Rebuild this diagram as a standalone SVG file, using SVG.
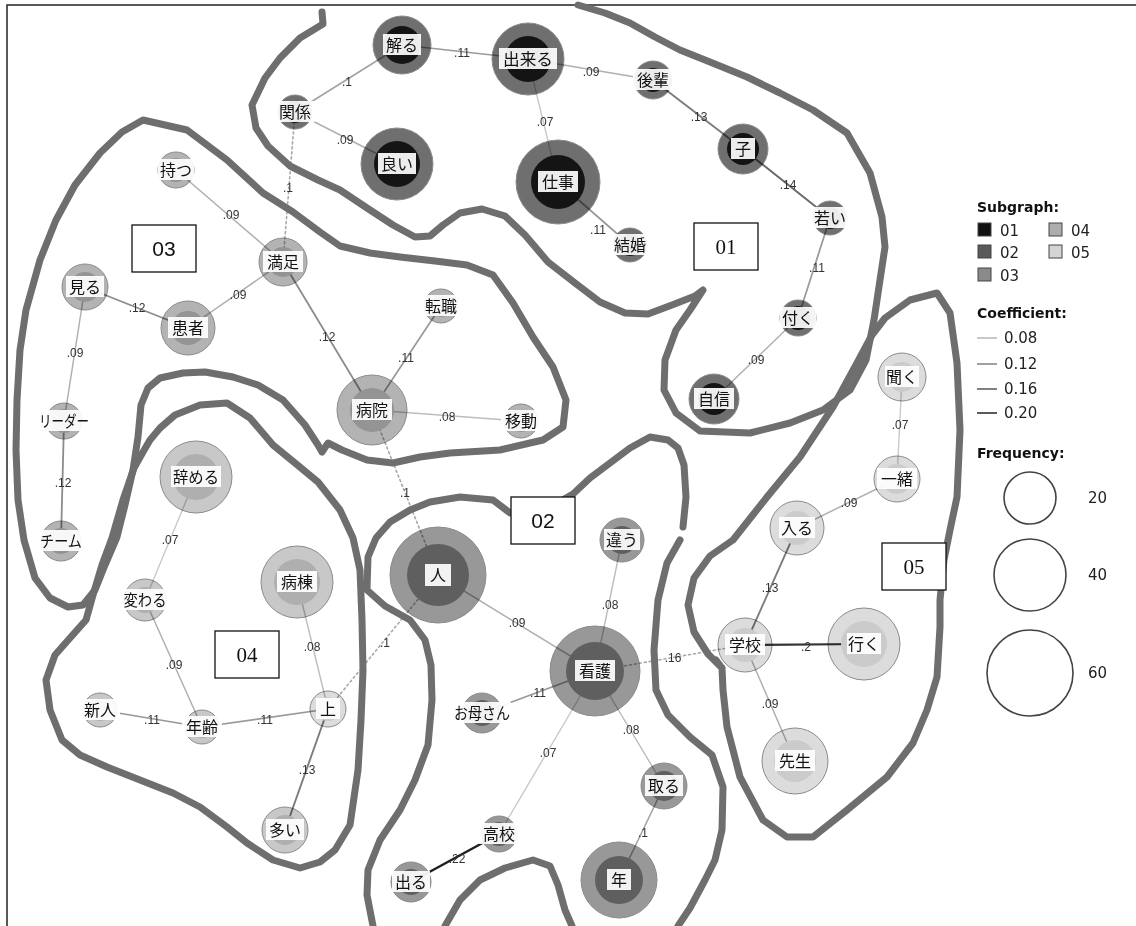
<svg xmlns="http://www.w3.org/2000/svg" width="1136" height="926" viewBox="0 0 1136 926">
<style>
.frame{fill:none;stroke:#222;stroke-width:1.5}
.e{fill:none;stroke-linecap:round}
.e07{stroke:#c6c6c6;stroke-width:1.3}
.e08{stroke:#bdbdbd;stroke-width:1.4}
.e09{stroke:#b0b0b0;stroke-width:1.5}
.e10{stroke:#a3a3a3;stroke-width:1.6}
.e11{stroke:#999;stroke-width:1.7}
.e12{stroke:#8c8c8c;stroke-width:1.8}
.e13{stroke:#7c7c7c;stroke-width:1.9}
.e14{stroke:#6a6a6a;stroke-width:2}
.e20{stroke:#333;stroke-width:2.2}
.e22{stroke:#1e1e1e;stroke-width:2.4}
.dot{stroke:#a8a8a8;stroke-width:1.6;stroke-dasharray:2 3}
.el{font-family:"Liberation Sans",Arial,sans-serif;font-size:12px;fill:#333;text-anchor:middle}
.ring{mix-blend-mode:multiply;stroke:#8a8a8a;stroke-width:1}
.g1o{fill:#6f6f6f}.g1i{fill:#141414}
.g2o{fill:#989898}.g2i{fill:#5f5f5f}
.g3o{fill:#b3b3b3}.g3i{fill:#949494}
.g4o{fill:#c8c8c8}.g4i{fill:#afafaf}
.g5o{fill:#dcdcdc}.g5i{fill:#cbcbcb}
.lb{fill:#fff;fill-opacity:0.92}
.nl{font-family:"Noto Sans CJK JP","Noto Sans CJK SC",sans-serif;font-size:16px;fill:#111;text-anchor:middle}
.bd{fill:none;stroke:#6e6e6e;stroke-width:7;stroke-linecap:round;stroke-linejoin:round}
.box{fill:#fff;stroke:#111;stroke-width:1.3}
.bt{font-size:21px;fill:#111;text-anchor:middle}
.sans{font-family:"Liberation Sans",Arial,sans-serif}
.serif{font-family:"Liberation Serif","Times New Roman",serif}
.lg{font-family:"DejaVu Sans",sans-serif;font-size:15px;fill:#222}
.lgh{font-family:"DejaVu Sans",sans-serif;font-size:14px;font-weight:bold;fill:#111}
.sw{stroke:#444;stroke-width:1}
.fc{fill:none;stroke:#444;stroke-width:1.6}
</style>
<rect width="1136" height="926" fill="#fff"/>
<path class="frame" d="M7,926 V5 H1136"/>

<g id="connectors">
<line class="e e10" x1="295" y1="112" x2="402" y2="45"/>
<line class="e e09" x1="295" y1="112" x2="397" y2="164"/>
<line class="e e11" x1="402" y1="45" x2="528" y2="59"/>
<line class="e e09" x1="528" y1="59" x2="653" y2="80"/>
<line class="e e07" x1="528" y1="59" x2="558" y2="182"/>
<line class="e e13" x1="653" y1="80" x2="743" y2="149"/>
<line class="e e14" x1="743" y1="149" x2="830" y2="218"/>
<line class="e e11" x1="830" y1="218" x2="798" y2="318"/>
<line class="e e09" x1="798" y1="318" x2="714" y2="399"/>
<line class="e e11" x1="558" y1="182" x2="630" y2="245"/>
<line class="e dot" x1="295" y1="112" x2="283" y2="262"/>
<line class="e e09" x1="176" y1="170" x2="283" y2="262"/>
<line class="e e09" x1="283" y1="262" x2="188" y2="328"/>
<line class="e e12" x1="85" y1="287" x2="188" y2="328"/>
<line class="e e09" x1="85" y1="287" x2="64" y2="421"/>
<line class="e e12" x1="64" y1="421" x2="61" y2="541"/>
<line class="e e12" x1="283" y1="262" x2="372" y2="410"/>
<line class="e e11" x1="372" y1="410" x2="441" y2="306"/>
<line class="e e08" x1="372" y1="410" x2="521" y2="421"/>
<line class="e dot" x1="372" y1="410" x2="438" y2="575"/>
<line class="e e07" x1="196" y1="477" x2="145" y2="600"/>
<line class="e e09" x1="145" y1="600" x2="202" y2="727"/>
<line class="e e11" x1="100" y1="710" x2="202" y2="727"/>
<line class="e e11" x1="202" y1="727" x2="328" y2="709"/>
<line class="e e08" x1="297" y1="582" x2="328" y2="709"/>
<line class="e e13" x1="328" y1="709" x2="285" y2="830"/>
<line class="e dot" x1="328" y1="709" x2="438" y2="575"/>
<line class="e e09" x1="438" y1="575" x2="595" y2="671"/>
<line class="e e08" x1="622" y1="540" x2="595" y2="671"/>
<line class="e e11" x1="482" y1="713" x2="595" y2="671"/>
<line class="e e07" x1="595" y1="671" x2="499" y2="834"/>
<line class="e e22" x1="499" y1="834" x2="411" y2="882"/>
<line class="e e08" x1="595" y1="671" x2="664" y2="786"/>
<line class="e e10" x1="664" y1="786" x2="619" y2="880"/>
<line class="e dot" x1="595" y1="671" x2="745" y2="645"/>
<line class="e e07" x1="902" y1="377" x2="897" y2="479"/>
<line class="e e09" x1="897" y1="479" x2="797" y2="528"/>
<line class="e e13" x1="797" y1="528" x2="745" y2="645"/>
<line class="e e20" x1="745" y1="645" x2="864" y2="644"/>
<line class="e e09" x1="745" y1="645" x2="795" y2="761"/>
<g id="edge-labels">
<text class="el" x="347" y="86">.1</text>
<text class="el" x="462" y="57">.11</text>
<text class="el" x="345" y="144">.09</text>
<text class="el" x="545" y="126">.07</text>
<text class="el" x="288" y="192">.1</text>
<text class="el" x="591" y="76">.09</text>
<text class="el" x="699" y="121">.13</text>
<text class="el" x="788" y="189">.14</text>
<text class="el" x="598" y="234">.11</text>
<text class="el" x="817" y="272">.11</text>
<text class="el" x="756" y="364">.09</text>
<text class="el" x="231" y="219">.09</text>
<text class="el" x="238" y="299">.09</text>
<text class="el" x="137" y="312">.12</text>
<text class="el" x="75" y="357">.09</text>
<text class="el" x="327" y="341">.12</text>
<text class="el" x="63" y="487">.12</text>
<text class="el" x="406" y="362">.11</text>
<text class="el" x="447" y="421">.08</text>
<text class="el" x="405" y="497">.1</text>
<text class="el" x="170" y="544">.07</text>
<text class="el" x="174" y="669">.09</text>
<text class="el" x="312" y="651">.08</text>
<text class="el" x="152" y="724">.11</text>
<text class="el" x="265" y="724">.11</text>
<text class="el" x="307" y="774">.13</text>
<text class="el" x="385" y="647">.1</text>
<text class="el" x="517" y="627">.09</text>
<text class="el" x="610" y="609">.08</text>
<text class="el" x="673" y="662">.16</text>
<text class="el" x="538" y="697">.11</text>
<text class="el" x="548" y="757">.07</text>
<text class="el" x="631" y="734">.08</text>
<text class="el" x="457" y="863">.22</text>
<text class="el" x="643" y="837">.1</text>
<text class="el" x="900" y="429">.07</text>
<text class="el" x="849" y="507">.09</text>
<text class="el" x="770" y="592">.13</text>
<text class="el" x="806" y="651">.2</text>
<text class="el" x="770" y="708">.09</text>
</g>
</g>

<g id="n-wakaru"><circle class="ring g1o" cx="402" cy="45" r="29"/><circle class="g1i" cx="402" cy="45" r="19"/><rect class="lb" x="383" y="34" width="38" height="21"/><text class="nl" x="402" y="51">解る</text></g>
<g id="n-dekiru"><circle class="ring g1o" cx="528" cy="59" r="36"/><circle class="g1i" cx="528" cy="59" r="23"/><rect class="lb" x="499" y="48" width="58" height="21"/><text class="nl" x="528" y="65" textLength="50" lengthAdjust="spacingAndGlyphs">出来る</text></g>
<g id="n-kankei"><circle class="ring g1o" cx="295" cy="112" r="17"/><circle class="g1i" cx="295" cy="112" r="11"/><rect class="lb" x="275" y="101" width="40" height="21"/><text class="nl" x="295" y="118">関係</text></g>
<g id="n-yoi"><circle class="ring g1o" cx="397" cy="164" r="36"/><circle class="g1i" cx="397" cy="164" r="23"/><rect class="lb" x="378" y="153" width="38" height="21"/><text class="nl" x="397" y="170">良い</text></g>
<g id="n-shigoto"><circle class="ring g1o" cx="558" cy="182" r="42"/><circle class="g1i" cx="558" cy="182" r="27"/><rect class="lb" x="538" y="171" width="40" height="21"/><text class="nl" x="558" y="188">仕事</text></g>
<g id="n-kouhai"><circle class="ring g1o" cx="653" cy="80" r="19"/><circle class="g1i" cx="653" cy="80" r="12"/><rect class="lb" x="633" y="69" width="40" height="21"/><text class="nl" x="653" y="86">後輩</text></g>
<g id="n-ko"><circle class="ring g1o" cx="743" cy="149" r="25"/><circle class="g1i" cx="743" cy="149" r="16"/><rect class="lb" x="731" y="138" width="24" height="21"/><text class="nl" x="743" y="155">子</text></g>
<g id="n-wakai"><circle class="ring g1o" cx="830" cy="218" r="17"/><circle class="g1i" cx="830" cy="218" r="11"/><rect class="lb" x="811" y="207" width="38" height="21"/><text class="nl" x="830" y="224">若い</text></g>
<g id="n-tsuku"><circle class="ring g1o" cx="798" cy="318" r="18"/><circle class="g1i" cx="798" cy="318" r="12"/><rect class="lb" x="780" y="307" width="36" height="21"/><text class="nl" x="798" y="324">付く</text></g>
<g id="n-jishin"><circle class="ring g1o" cx="714" cy="399" r="25"/><circle class="g1i" cx="714" cy="399" r="16"/><rect class="lb" x="694" y="388" width="40" height="21"/><text class="nl" x="714" y="405">自信</text></g>
<g id="n-kekkon"><circle class="ring g1o" cx="630" cy="245" r="17"/><circle class="g1i" cx="630" cy="245" r="11"/><rect class="lb" x="610" y="234" width="40" height="21"/><text class="nl" x="630" y="251">結婚</text></g>

<g id="n-motsu"><circle class="ring g3o" cx="176" cy="170" r="18"/><circle class="g3i" cx="176" cy="170" r="12"/><rect class="lb" x="158" y="159" width="36" height="21"/><text class="nl" x="176" y="176">持つ</text></g>
<g id="n-manzoku"><circle class="ring g3o" cx="283" cy="262" r="24"/><circle class="g3i" cx="283" cy="262" r="15"/><rect class="lb" x="263" y="251" width="40" height="21"/><text class="nl" x="283" y="268">満足</text></g>
<g id="n-miru"><circle class="ring g3o" cx="85" cy="287" r="23"/><circle class="g3i" cx="85" cy="287" r="15"/><rect class="lb" x="66" y="276" width="38" height="21"/><text class="nl" x="85" y="293">見る</text></g>
<g id="n-kanja"><circle class="ring g3o" cx="188" cy="328" r="27"/><circle class="g3i" cx="188" cy="328" r="17"/><rect class="lb" x="168" y="317" width="40" height="21"/><text class="nl" x="188" y="334">患者</text></g>
<g id="n-leader"><circle class="ring g3o" cx="64" cy="421" r="18"/><circle class="g3i" cx="64" cy="421" r="12"/><rect class="lb" x="37" y="410" width="54" height="21"/><text class="nl" x="64" y="427" textLength="50" lengthAdjust="spacingAndGlyphs">リーダー</text></g>
<g id="n-team"><circle class="ring g3o" cx="61" cy="541" r="20"/><circle class="g3i" cx="61" cy="541" r="13"/><rect class="lb" x="39" y="530" width="44" height="21"/><text class="nl" x="61" y="547" textLength="42" lengthAdjust="spacingAndGlyphs">チーム</text></g>
<g id="n-byouin"><circle class="ring g3o" cx="372" cy="410" r="35"/><circle class="g3i" cx="372" cy="410" r="22"/><rect class="lb" x="352" y="399" width="40" height="21"/><text class="nl" x="372" y="416">病院</text></g>
<g id="n-tenshoku"><circle class="ring g3o" cx="441" cy="306" r="17"/><circle class="g3i" cx="441" cy="306" r="11"/><rect class="lb" x="421" y="295" width="40" height="21"/><text class="nl" x="441" y="312">転職</text></g>
<g id="n-idou"><circle class="ring g3o" cx="521" cy="421" r="17"/><circle class="g3i" cx="521" cy="421" r="11"/><rect class="lb" x="501" y="410" width="40" height="21"/><text class="nl" x="521" y="427">移動</text></g>

<g id="n-yameru"><circle class="ring g4o" cx="196" cy="477" r="36"/><circle class="g4i" cx="196" cy="477" r="23"/><rect class="lb" x="171" y="466" width="50" height="21"/><text class="nl" x="196" y="483" textLength="46" lengthAdjust="spacingAndGlyphs">辞める</text></g>
<g id="n-kawaru"><circle class="ring g4o" cx="145" cy="600" r="21"/><circle class="g4i" cx="145" cy="600" r="13"/><rect class="lb" x="122" y="589" width="46" height="21"/><text class="nl" x="145" y="606" textLength="43" lengthAdjust="spacingAndGlyphs">変わる</text></g>
<g id="n-byoutou"><circle class="ring g4o" cx="297" cy="582" r="36"/><circle class="g4i" cx="297" cy="582" r="23"/><rect class="lb" x="277" y="571" width="40" height="21"/><text class="nl" x="297" y="588">病棟</text></g>
<g id="n-shinjin"><circle class="ring g4o" cx="100" cy="710" r="17"/><circle class="g4i" cx="100" cy="710" r="11"/><rect class="lb" x="80" y="699" width="40" height="21"/><text class="nl" x="100" y="716">新人</text></g>
<g id="n-nenrei"><circle class="ring g4o" cx="202" cy="727" r="17"/><circle class="g4i" cx="202" cy="727" r="11"/><rect class="lb" x="182" y="716" width="40" height="21"/><text class="nl" x="202" y="733">年齢</text></g>
<g id="n-ue"><circle class="ring g5o" cx="328" cy="709" r="18"/><circle class="g5i" cx="328" cy="709" r="12"/><rect class="lb" x="316" y="698" width="24" height="21"/><text class="nl" x="328" y="715">上</text></g>
<g id="n-ooi"><circle class="ring g4o" cx="285" cy="830" r="23"/><circle class="g4i" cx="285" cy="830" r="15"/><rect class="lb" x="266" y="819" width="38" height="21"/><text class="nl" x="285" y="836">多い</text></g>

<g id="n-hito"><circle class="ring g2o" cx="438" cy="575" r="48"/><circle class="g2i" cx="438" cy="575" r="31"/><rect class="lb" x="425" y="564" width="26" height="22"/><text class="nl" x="438" y="581">人</text></g>
<g id="n-kango"><circle class="ring g2o" cx="595" cy="671" r="45"/><circle class="g2i" cx="595" cy="671" r="29"/><rect class="lb" x="575" y="660" width="40" height="21"/><text class="nl" x="595" y="677">看護</text></g>
<g id="n-chigau"><circle class="ring g2o" cx="622" cy="540" r="22"/><circle class="g2i" cx="622" cy="540" r="14"/><rect class="lb" x="604" y="529" width="36" height="21"/><text class="nl" x="622" y="546">違う</text></g>
<g id="n-okaasan"><circle class="ring g2o" cx="482" cy="713" r="20"/><circle class="g2i" cx="482" cy="713" r="13"/><rect class="lb" x="453" y="702" width="58" height="21"/><text class="nl" x="482" y="719" textLength="56" lengthAdjust="spacingAndGlyphs">お母さん</text></g>
<g id="n-koukou"><circle class="ring g2o" cx="499" cy="834" r="18"/><circle class="g2i" cx="499" cy="834" r="12"/><rect class="lb" x="479" y="823" width="40" height="21"/><text class="nl" x="499" y="840">高校</text></g>
<g id="n-deru"><circle class="ring g2o" cx="411" cy="882" r="20"/><circle class="g2i" cx="411" cy="882" r="13"/><rect class="lb" x="392" y="871" width="38" height="21"/><text class="nl" x="411" y="888">出る</text></g>
<g id="n-toru"><circle class="ring g2o" cx="664" cy="786" r="23"/><circle class="g2i" cx="664" cy="786" r="15"/><rect class="lb" x="645" y="775" width="38" height="21"/><text class="nl" x="664" y="792">取る</text></g>
<g id="n-toshi"><circle class="ring g2o" cx="619" cy="880" r="38"/><circle class="g2i" cx="619" cy="880" r="24"/><rect class="lb" x="607" y="869" width="24" height="21"/><text class="nl" x="619" y="886">年</text></g>

<g id="n-kiku"><circle class="ring g5o" cx="902" cy="377" r="24"/><circle class="g5i" cx="902" cy="377" r="15"/><rect class="lb" x="885" y="366" width="34" height="21"/><text class="nl" x="902" y="383">聞く</text></g>
<g id="n-issho"><circle class="ring g5o" cx="897" cy="479" r="23"/><circle class="g5i" cx="897" cy="479" r="15"/><rect class="lb" x="877" y="468" width="40" height="21"/><text class="nl" x="897" y="485">一緒</text></g>
<g id="n-hairu"><circle class="ring g5o" cx="797" cy="528" r="27"/><circle class="g5i" cx="797" cy="528" r="17"/><rect class="lb" x="779" y="517" width="36" height="21"/><text class="nl" x="797" y="534">入る</text></g>
<g id="n-gakkou"><circle class="ring g5o" cx="745" cy="645" r="27"/><circle class="g5i" cx="745" cy="645" r="17"/><rect class="lb" x="725" y="634" width="40" height="21"/><text class="nl" x="745" y="651">学校</text></g>
<g id="n-iku"><circle class="ring g5o" cx="864" cy="644" r="36"/><circle class="g5i" cx="864" cy="644" r="23"/><rect class="lb" x="847" y="633" width="34" height="21"/><text class="nl" x="864" y="650">行く</text></g>
<g id="n-sensei"><circle class="ring g5o" cx="795" cy="761" r="33"/><circle class="g5i" cx="795" cy="761" r="21"/><rect class="lb" x="775" y="750" width="40" height="21"/><text class="nl" x="795" y="767">先生</text></g>

<g id="boundaries">
<path class="bd" d="M322,12 L323,24 L300,38 L280,58 L265,78 L252,105 L256,128 L268,146 L290,166 L318,180 L340,190 L367,208 L393,225 L415,237 L430,236 L443,225 L460,213 L482,209 L505,216 L525,235 L548,262 L575,283 L600,302 L625,313 L648,314 L672,305 L695,296 L703,290 L690,310 L676,330 L665,360 L664,390 L676,413 L700,431 L750,433 L790,423 L823,410 L850,390 L866,360 L874,320 L880,280 L885,247 L882,217 L870,173 L847,133 L813,110 L780,93 L747,77 L710,62 L680,50 L655,37 L630,23 L605,13 L578,5"/>
<path class="bd" d="M143,120 L187,130 L227,160 L263,193 L293,212 L320,232 L340,246 L370,253 L400,257 L435,261 L467,265 L493,275 L513,303 L533,337 L553,367 L566,400 L563,427 L543,440 L500,450 L450,453 L420,457 L393,463 L367,460 L342,450 L328,443 L322,452 L318,445 L305,425 L283,400 L258,385 L233,377 L205,372 L183,373 L160,378 L148,388 L141,405 L138,437 L133,470 L125,505 L117,537 L105,565 L95,590 L83,605 L68,607 L50,598 L35,578 L24,540 L18,500 L16,450 L17,400 L20,350 L26,310 L40,260 L56,220 L75,185 L100,153 L122,132 Z"/>
<path class="bd" d="M143,452 L150,440 L160,428 L175,415 L200,405 L227,403 L250,418 L273,445 L295,463 L318,482 L340,510 L353,538 L360,570 L362,620 L363,670 L361,720 L358,770 L350,825 L335,850 L320,862 L300,868 L273,860 L247,843 L227,827 L200,807 L173,793 L140,780 L107,767 L80,755 L62,740 L50,710 L46,680 L55,655 L70,638 L86,620 L93,595 L102,565 L112,538 L123,500 L134,468 Z"/>
<path class="bd" d="M683,527 L686,497 L684,465 L678,448 L668,440 L650,437 L630,448 L610,463 L590,478 L573,494 L545,510 L510,513 L493,500 L460,497 L430,502 L410,510 L390,522 L376,538 L368,557 L367,590 L385,606 L410,620 L425,640 L431,665 L432,700 L428,745 L415,780 L400,810 L380,840 L368,870 L367,895 L373,926"/>
<path class="bd" d="M680,540 L667,563 L658,600 L654,650 L656,690 L668,715 L690,737 L712,755 L723,787 L722,830 L715,860 L705,880 L690,908 L678,926"/>
<path class="bd" d="M445,926 L460,900 L480,880 L505,868 L533,860 L550,866 L558,885 L565,910 L572,926"/>
<path class="bd" d="M716,660 L722,668 L708,654 L694,632 L688,605 L694,578 L710,556 L733,540 L767,497 L800,457 L833,407 L857,363 L872,335 L885,318 L910,300 L937,293 L950,313 L957,363 L960,430 L957,497 L950,530 L944,560 L940,600 L940,627 L937,677 L927,710 L913,743 L887,777 L847,810 L813,837 L787,837 L763,820 L740,777 L727,727 L723,690 L722,668"/>
</g>

<g id="region-labels">
<rect class="box" x="694" y="223" width="64" height="47"/><text class="bt serif" x="726" y="254">01</text>
<rect class="box" x="511" y="497" width="64" height="47"/><text class="bt sans" x="543" y="528">02</text>
<rect class="box" x="132" y="225" width="64" height="47"/><text class="bt sans" x="164" y="256">03</text>
<rect class="box" x="215" y="631" width="64" height="47"/><text class="bt serif" x="247" y="662">04</text>
<rect class="box" x="882" y="543" width="64" height="47"/><text class="bt serif" x="914" y="574">05</text>
</g>

<g id="legend">
<text class="lgh" x="977" y="212">Subgraph:</text>
<rect class="sw" x="978" y="223" width="13" height="13" fill="#111"/><text class="lg" x="1000" y="236">01</text>
<rect class="sw" x="978" y="245" width="13" height="13" fill="#5a5a5a"/><text class="lg" x="1000" y="258">02</text>
<rect class="sw" x="978" y="268" width="13" height="13" fill="#8a8a8a"/><text class="lg" x="1000" y="281">03</text>
<rect class="sw" x="1049" y="223" width="13" height="13" fill="#adadad"/><text class="lg" x="1071" y="236">04</text>
<rect class="sw" x="1049" y="245" width="13" height="13" fill="#d4d4d4"/><text class="lg" x="1071" y="258">05</text>
<text class="lgh" x="977" y="318">Coefficient:</text>
<line x1="977" y1="338" x2="997" y2="338" stroke="#c8c8c8" stroke-width="2"/><text class="lg" x="1004" y="343">0.08</text>
<line x1="977" y1="364" x2="997" y2="364" stroke="#a0a0a0" stroke-width="2"/><text class="lg" x="1004" y="369">0.12</text>
<line x1="977" y1="389" x2="997" y2="389" stroke="#808080" stroke-width="2"/><text class="lg" x="1004" y="394">0.16</text>
<line x1="977" y1="413" x2="997" y2="413" stroke="#5a5a5a" stroke-width="2"/><text class="lg" x="1004" y="418">0.20</text>
<text class="lgh" x="977" y="458">Frequency:</text>
<circle class="fc" cx="1030" cy="498" r="26"/><text class="lg" x="1088" y="503">20</text>
<circle class="fc" cx="1030" cy="575" r="36"/><text class="lg" x="1088" y="580">40</text>
<circle class="fc" cx="1030" cy="673" r="43"/><text class="lg" x="1088" y="678">60</text>
</g>
</svg>
